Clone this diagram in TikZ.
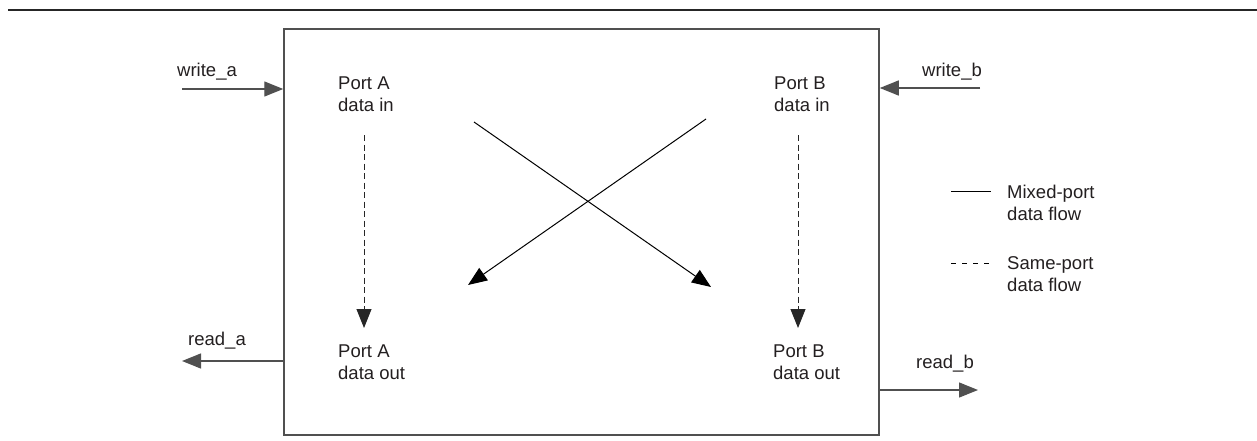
\documentclass[tikz,border=0pt]{standalone}
\usepackage{fontspec}
\setmainfont{Liberation Sans}
\usetikzlibrary{arrows.meta}
\definecolor{linegray}{RGB}{80,80,80}
\definecolor{textblack}{RGB}{35,31,32}
\tikzset{
  lbl/.style={inner sep=0pt, align=left, text=textblack, font=\fontsize{18.5}{22}\selectfont},
  sig/.style={->, line width=1.3pt, color=linegray},
  flow/.style={->, line width=1pt, color=black},
  sameflow/.style={->, line width=1pt, color=black!85, dash pattern=on 6pt off 3.5pt}
}
\begin{document}
\begin{tikzpicture}[line join=miter,>={Triangle[length=19pt,width=15pt]},x=1pt,y=-1pt]
\useasboundingbox (0,0) rectangle (1257,441);
\draw[line width=1.6pt, color=black!85] (8,10) -- (1257,10);

%muistilohko
\node[draw=linegray, line width=1.5pt, minimum width=595pt, minimum height=406pt, inner sep=0pt] (ram) at (581.5,232) {};

%portit
\node[lbl, anchor=north west] (ainA) at (338,77) {Port A\\data in};
\node[lbl, anchor=north west] (ainB) at (774,77) {Port B\\data in};
\node[lbl, anchor=north west] (aoutA) at (338,345) {Port A\\data out};
\node[lbl, anchor=north west] (aoutB) at (773,345) {Port B\\data out};

%kirjoitus ja luku
\node[lbl, anchor=base west] (wa) at (177,77) {write\_a};
\node[lbl, anchor=base west] (wb) at (922,77) {write\_b};
\node[lbl, anchor=base west] (ra) at (188,345) {read\_a};
\node[lbl, anchor=base west] (rb) at (916,368) {read\_b};
\coordinate (wa0) at (182,89);
\coordinate (wb0) at (980,88);
\coordinate (ra1) at (182,361);
\coordinate (rb1) at (978,390);
\draw[sig] (wa0) -- (wa0 -| ram.west);
\draw[sig] (wb0) -- (wb0 -| ram.east);
\draw[sig] (ra1 -| ram.west) -- (ra1);
\draw[sig] (rb1 -| ram.east) -- (rb1);

%sama portti
\coordinate (dA0) at (364,135);
\coordinate (dA1) at (364,328);
\coordinate (dB0) at (798,135);
\coordinate (dB1) at (798,328);
\draw[sameflow] (dA0) -- (dA1);
\draw[sameflow] (dB0) -- (dB1);

%ristiin
\coordinate (xA0) at (474,122);
\coordinate (xA1) at (711,287);
\coordinate (xB0) at (706,119);
\coordinate (xB1) at (468,285);
\draw[flow] (xA0) -- (xA1);
\draw[flow] (xB0) -- (xB1);

%selite
\coordinate (s0) at (951,191);
\coordinate (s1) at (991,191);
\coordinate (t0) at (951,263);
\coordinate (t1) at (991,263);
\draw[line width=1pt] (s0) -- (s1);
\draw[line width=1pt, dash pattern=on 5pt off 6pt] (t0) -- (t1);
\node[lbl, anchor=north west] (mixed) at (1007,185) {Mixed-port\\data flow};
\node[lbl, anchor=north west] (same) at (1007,256) {Same-port\\data flow};
\end{tikzpicture}
\end{document}
